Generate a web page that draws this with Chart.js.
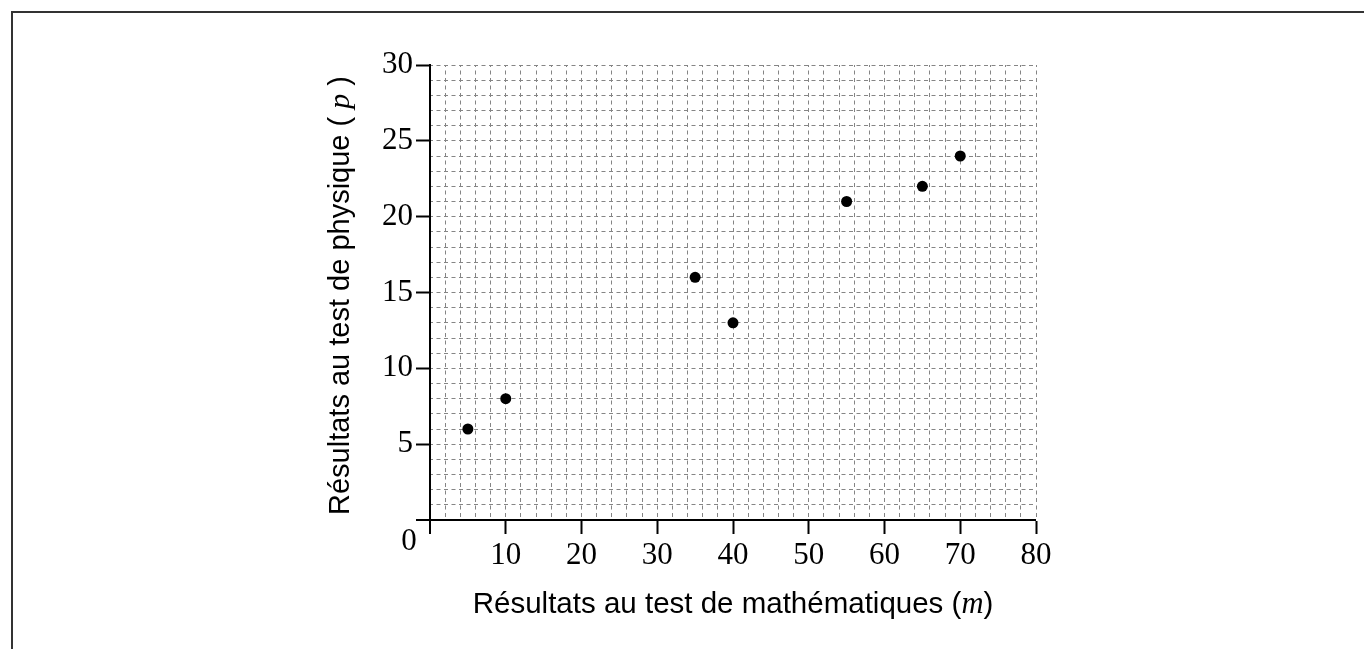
<!DOCTYPE html>
<html><head><meta charset="utf-8">
<script src="https://cdn.jsdelivr.net/npm/chart.js@4.4.0/dist/chart.umd.min.js"></script>
<style>
html,body{margin:0;padding:0;background:#fff;}
#wrap{position:relative;width:1364px;height:649px;overflow:hidden;background:#fff;}
#frame{position:absolute;left:11px;top:11px;width:1400px;height:700px;border-left:2px solid #333;border-top:2px solid #333;}
canvas{position:absolute;left:0;top:0;}
</style></head><body>
<div id="wrap"><div id="frame"></div><canvas id="c" width="1364" height="649"></canvas></div>
<script>
// ---- data ----
const mathScores = [5, 10, 35, 40, 55, 65, 70];
const physicsScores = [6, 8, 16, 13, 21, 22, 24];
const xTickLabels = [10, 20, 30, 40, 50, 60, 70, 80];
const yTickLabels = [5, 10, 15, 20, 25, 30];
const originLabel = '0';
const xTitleParts = ['Résultats au test de mathématiques (', 'm', ')'];
const yTitleParts = ['Résultats au test de physique ( ', 'p', ' )'];

const SERIF = '"Liberation Serif", "Times New Roman", serif';
const SANS = '"Liberation Sans", Arial, sans-serif';
const GRID = '#858585';

function drawParts(ctx, parts, cx, cy, rotate, size) {
  const fonts = [size + 'px ' + SANS, 'italic ' + (size + 1) + 'px ' + SERIF, size + 'px ' + SANS];
  let widths = parts.map((t, i) => { ctx.font = fonts[i]; return ctx.measureText(t).width; });
  const total = widths.reduce((a, b) => a + b, 0);
  ctx.save();
  ctx.translate(cx, cy);
  if (rotate) ctx.rotate(-Math.PI / 2);
  ctx.textAlign = 'left';
  ctx.textBaseline = 'alphabetic';
  ctx.fillStyle = '#000';
  let pos = -total / 2;
  parts.forEach((t, i) => { ctx.font = fonts[i]; ctx.fillText(t, pos, 0); pos += widths[i]; });
  ctx.restore();
}

const annotations = {
  id: 'annotations',
  afterDraw(chart) {
    const {ctx, chartArea, scales: {x, y}} = chart;
    ctx.save();
    ctx.fillStyle = '#000';
    ctx.font = '31px ' + SERIF;
    ctx.textAlign = 'center';
    ctx.textBaseline = 'alphabetic';
    ctx.fillText(originLabel, x.getPixelForValue(0) - 21, y.getPixelForValue(0) + 30);
    ctx.restore();
    drawParts(ctx, xTitleParts, (chartArea.left + chartArea.right) / 2, 613, false, 29.5);
    drawParts(ctx, yTitleParts, 349, (chartArea.top + chartArea.bottom) / 2 + 3, true, 29);
  }
};

new Chart(document.getElementById('c'), {
  type: 'scatter',
  data: {
    datasets: [{
      data: mathScores.map((m, i) => ({x: m, y: physicsScores[i]})),
      backgroundColor: '#000',
      borderColor: '#000',
      borderWidth: 0,
      pointRadius: 5.5,
      pointHoverRadius: 5.5
    }]
  },
  options: {
    responsive: false,
    maintainAspectRatio: false,
    animation: false,
    devicePixelRatio: 1,
    events: [],
    layout: {padding: {left: 300, right: 328, top: 65, bottom: 0}},
    plugins: {legend: {display: false}, tooltip: {enabled: false}, title: {display: false}},
    scales: {
      x: {
        type: 'linear', position: 'bottom', min: 0, max: 80,
        afterFit: s => { s.height = 129; },
        ticks: {
          stepSize: 2, autoSkip: false, maxRotation: 0, minRotation: 0, padding: 3,
          color: '#000', font: {family: SERIF, size: 31},
          callback: v => xTickLabels.includes(v) ? String(v) : ''
        },
        grid: {
          color: GRID,
          lineWidth: c => (c.tick && c.tick.value === 0) ? 0 : 1,
          drawTicks: true, tickLength: 14,
          tickColor: '#000',
          tickWidth: c => (c.tick && (c.tick.value === 0 || xTickLabels.includes(c.tick.value))) ? 2 : 0
        },
        border: {display: true, color: '#000', width: 2, dash: [4, 3.5], dashOffset: 2}
      },
      y: {
        type: 'linear', position: 'left', min: 0, max: 30,
        afterFit: s => { s.width = 130; },
        ticks: {
          stepSize: 1, autoSkip: false, padding: 3,
          color: '#000', font: {family: SERIF, size: 31},
          callback: v => yTickLabels.includes(v) ? String(v) : ''
        },
        grid: {
          color: GRID,
          lineWidth: c => (c.tick && c.tick.value === 0) ? 0 : 1,
          drawTicks: true, tickLength: 14,
          tickColor: '#000',
          tickWidth: c => (c.tick && (c.tick.value === 0 || yTickLabels.includes(c.tick.value))) ? 2 : 0
        },
        border: {display: true, color: '#000', width: 2, dash: [4, 3.5], dashOffset: 2}
      }
    }
  },
  plugins: [annotations]
});
</script>
</body></html>
